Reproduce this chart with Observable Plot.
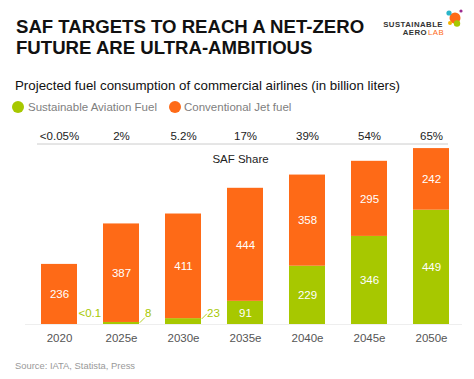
<!DOCTYPE html>
<html><head><meta charset="utf-8">
<script src="https://cdn.jsdelivr.net/npm/d3@7"></script>
<script src="https://cdn.jsdelivr.net/npm/@observablehq/plot@0.6"></script>
<style>
body{margin:0;background:#fff;font-family:"Liberation Sans",Arial,sans-serif;}
#wrap{position:relative;width:474px;height:379px;overflow:hidden;background:#fff;}
.abs{position:absolute;white-space:nowrap;}
#chart{position:absolute;left:0;top:115px;}
.leg{position:absolute;top:100px;height:14px;line-height:14px;font-size:11.5px;color:#808080;white-space:nowrap;}
.dotc{position:absolute;width:12px;height:12px;border-radius:50%;top:1px;}
.logo{position:absolute;left:371px;width:72px;text-align:right;font-size:7.8px;line-height:8px;font-weight:bold;color:#333;letter-spacing:0.45px;white-space:nowrap;}
</style></head><body>
<div id="wrap">
  <div class="abs" style="left:16px;top:16.4px;font-size:18.6px;line-height:21px;font-weight:bold;color:#111">SAF TARGETS TO REACH A NET-ZERO<br>FUTURE ARE ULTRA-AMBITIOUS</div>
  <div class="logo" style="top:20.6px">SUSTAINABLE</div>
  <div class="logo" style="top:28.6px;width:56px">AERO</div>
  <div class="abs" style="left:428px;top:28.6px;font-size:7.8px;line-height:8px;color:#fe6a17;letter-spacing:0.45px">LAB</div>
  <svg class="abs" style="left:440px;top:3px" width="30" height="30">
    <circle cx="15" cy="15" r="5.5" fill="#fe6a17"/>
    <circle cx="9" cy="10" r="2.6" fill="#2bb5c9"/>
    <circle cx="17" cy="20.5" r="3.2" fill="#a7c800"/>
    <circle cx="21" cy="8" r="1.6" fill="#9c2a8f"/>
    <circle cx="10" cy="20" r="2" fill="#f5b400"/>
  </svg>
  <div class="abs" id="subtitle" style="left:15px;top:78.1px;font-size:13.3px;line-height:16px;color:#111"></div>
  <div id="legend"></div>
  <div id="chart"></div>
  <div class="abs" id="source" style="left:15px;top:360px;font-size:9.4px;line-height:12px;color:#999"></div>
</div>
<script>
const subtitleText = "Projected fuel consumption of commercial airlines (in billion liters)";
const sourceText = "Source: IATA, Statista, Press";
const years = ["2020", "2025e", "2030e", "2035e", "2040e", "2045e", "2050e"];
const fuels = ["Sustainable Aviation Fuel", "Conventional Jet fuel"];
const fuelColors = ["#a7c800", "#fe6a17"];
const safValues = [0.05, 8, 23, 91, 229, 346, 449];
const jetValues = [236, 387, 411, 444, 358, 295, 242];
const safLabels = ["<0.1", "8", "23", "91", "229", "346", "449"];
const shareLabels = ["<0.05%", "2%", "5.2%", "17%", "39%", "54%", "65%"];
const shareTitle = "SAF Share";

document.getElementById("subtitle").textContent = subtitleText;
document.getElementById("source").textContent = sourceText;
const legend = document.getElementById("legend");
const legPos = [[12, 28], [169, 184]];
fuels.forEach((f, i) => {
  const d = document.createElement("div");
  d.className = "leg";
  d.style.left = legPos[i][0] + "px";
  d.innerHTML = `<span class="dotc" style="left:0;background:${fuelColors[i]}"></span><span style="position:absolute;left:${legPos[i][1]-legPos[i][0]}px;white-space:nowrap">${f}</span>`;
  legend.appendChild(d);
});

const rows = years.flatMap((yr, i) => [
  {year: yr, fuel: fuels[0], value: safValues[i], label: safValues[i] >= 50 ? safLabels[i] : ""},
  {year: yr, fuel: fuels[1], value: jetValues[i], label: String(jetValues[i])}
]);
const outside = years.map((yr, i) => ({year: yr, value: safValues[i], label: safLabels[i]})).filter(d => d.value < 50);
const leaders = outside.filter(d => d.value >= 1);
const noLeader = outside.filter(d => d.value < 1);
const shares = years.map((yr, i) => ({year: yr, label: shareLabels[i]}));
const yMax = 709;

const lineShape = {draw(context, l) { context.moveTo(0, 0); context.lineTo(0, -l); }};

const chart = Plot.plot({
  width: 474,
  height: 235,
  marginTop: 28.5,
  marginBottom: 26,
  marginLeft: 41,
  marginRight: 25,
  style: {fontFamily: '"Liberation Sans", Arial, sans-serif', fontSize: "11.5px", background: "transparent", color: "#555"},
  x: {domain: years, paddingInner: 0.42, paddingOuter: 0, tickSize: 0, tickPadding: 9.5, label: null},
  y: {domain: [0, yMax], axis: null},
  color: {domain: fuels, range: fuelColors},
  marks: [
    Plot.ruleY([0], {stroke: "#eee", insetLeft: -16, insetRight: -13}),
    Plot.barY(rows, {x: "year", y: "value", fill: "fuel", order: fuels}),
    Plot.text(rows, Plot.stackY({x: "year", y: "value", z: "fuel", order: fuels, text: "label", fill: "white", fontSize: 11.5})),
    Plot.vector(leaders, {x: "year", y: "value", length: 6.5, rotate: 45, anchor: "start", dx: 18.5, stroke: fuelColors[0], strokeWidth: 0.8, shape: lineShape}),
    Plot.text(noLeader, {x: "year", text: "label", frameAnchor: "bottom", dy: -8, dx: 19, textAnchor: "start", fill: fuelColors[0], fontSize: 11.5}),
    Plot.text(leaders, {x: "year", text: "label", frameAnchor: "bottom", dy: -8, dx: 23.5, textAnchor: "start", fill: fuelColors[0], fontSize: 11.5}),
    Plot.ruleY([yMax], {stroke: "#ccc", insetLeft: -4, insetRight: 1}),
    Plot.text(shares, {x: "year", text: "label", frameAnchor: "top", dy: -12, fill: "#222", fontSize: 11.5}),
    Plot.text([shareTitle], {text: d => d, frameAnchor: "top", dy: 10.5, dx: -5, fill: "#222", fontSize: 11.5})
  ]
});
document.getElementById("chart").appendChild(chart);
</script>
</body></html>
